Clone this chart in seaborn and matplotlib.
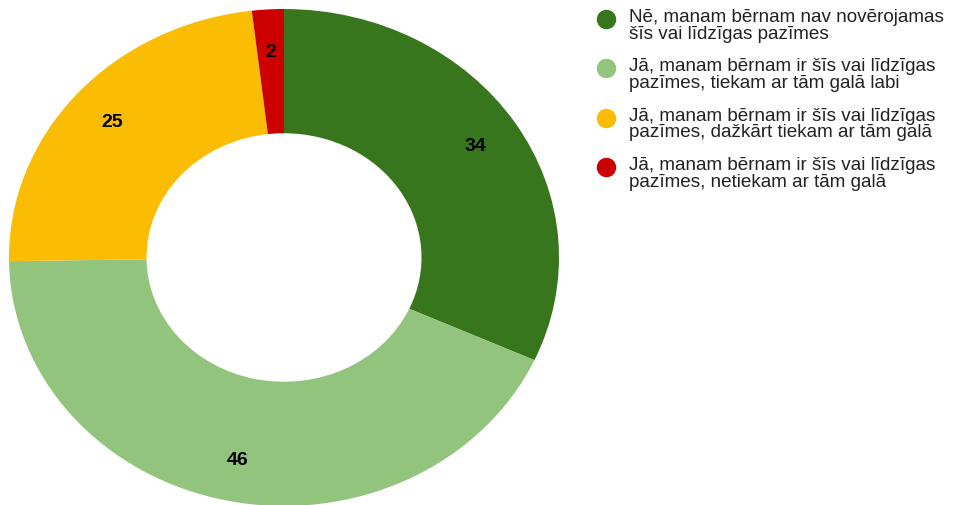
import seaborn as sns
import matplotlib.pyplot as plt
from matplotlib.lines import Line2D

# Survey answers (count of respondents)
labels = [
    "Nē, manam bērnam nav novērojamas\nšīs vai līdzīgas pazīmes",
    "Jā, manam bērnam ir šīs vai līdzīgas\npazīmes, tiekam ar tām galā labi",
    "Jā, manam bērnam ir šīs vai līdzīgas\npazīmes, dažkārt tiekam ar tām galā",
    "Jā, manam bērnam ir šīs vai līdzīgas\npazīmes, netiekam ar tām galā",
]
counts = [34, 46, 25, 2]
colors = ["#38761D", "#93C47D", "#FBBC04", "#CC0000"]

sns.set_style("white")
plt.rcParams["font.family"] = ["Liberation Sans", "DejaVu Sans"]

W, H = 954, 506
fig = plt.figure(figsize=(W / 100, H / 100), dpi=100)

# donut is a bit wider than tall in the reference
ax = fig.add_axes([9 / W, -1 / H, 550 / W, 497 / H])
total = sum(counts)
wedges, _, autotexts = ax.pie(
    counts,
    colors=colors,
    startangle=90,
    counterclock=False,
    radius=1.0,
    wedgeprops=dict(width=0.5, edgecolor="none"),
    autopct=lambda p: f"{round(p * total / 100)}",
    pctdistance=0.83,
    textprops=dict(fontsize=14, fontweight="bold", color="black"),
)
ax.set_aspect("auto")
ax.set_xlim(-1, 1)
ax.set_ylim(-1, 1)
ax.axis("off")

# legend: round markers aligned with the first line of each label
for i, (lab, col) in enumerate(zip(labels, colors)):
    y = 20 + 49.3 * i
    fig.add_artist(Line2D([606 / W], [1 - y / H], marker="o", markersize=13,
                          color=col, linestyle="none", transform=fig.transFigure))
    fig.text(629 / W, 1 - (y - 11) / H, lab, fontsize=13.6, color="#222222",
             va="top", ha="left", linespacing=0.98)

plt.savefig("out.png", dpi=100)
